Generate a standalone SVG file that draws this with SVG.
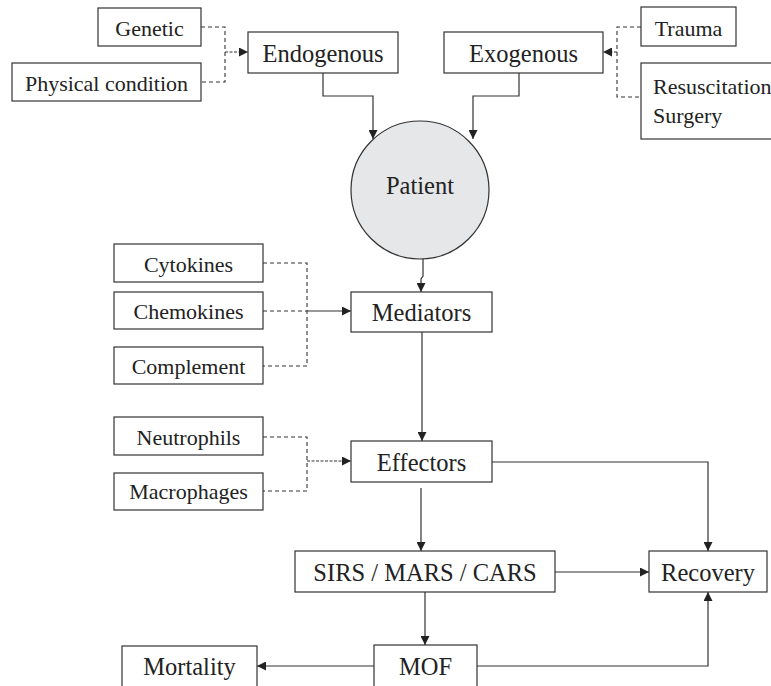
<svg xmlns="http://www.w3.org/2000/svg" width="771" height="686" viewBox="0 0 771 686">
<style>
  .box{fill:#fff;stroke:#333;stroke-width:1.2}
  .t{font-family:"Liberation Serif","Times New Roman",serif;fill:#222;text-anchor:middle}
  .big{font-size:24.5px}
  .sm{font-size:22px}
  .ln{fill:none;stroke:#333;stroke-width:1.2}
  .dash{fill:none;stroke:#333;stroke-width:1.1;stroke-dasharray:4,3}
  .dash2{fill:none;stroke:#333;stroke-width:1.1;stroke-dasharray:3,1.5}
</style>
<defs>
  <marker id="ah" viewBox="0 0 10 10" refX="10" refY="5" markerWidth="9" markerHeight="9" markerUnits="userSpaceOnUse" orient="auto">
    <path d="M0,0 L10,5 L0,10 z" fill="#222"/>
  </marker>
</defs>
<rect width="771" height="686" fill="#fff"/>

<g id="connectors">
  <!-- Endogenous inputs -->
  <path class="dash" d="M201,27 H225 V82 H201"/>
  <path class="dash2" d="M225,52 H248" marker-end="url(#ah)"/>
  <!-- Exogenous inputs -->
  <path class="dash" d="M641,27 H617 V97 H641"/>
  <path class="dash2" d="M617,52 H603" marker-end="url(#ah)"/>
  <!-- To patient -->
  <path class="ln" d="M323,73 V96 H373 V139" marker-end="url(#ah)"/>
  <path class="ln" d="M519,73 V96 H473 V139" marker-end="url(#ah)"/>
  <!-- Patient to Mediators -->
  <path class="ln" d="M423,259 V276 L421,279 V292" marker-end="url(#ah)"/>
  <!-- Mediator inputs -->
  <path class="dash" d="M263,263 H307 V366 H263"/>
  <path class="dash" d="M263,311 H307"/>
  <path class="ln" d="M307,311 H351" marker-end="url(#ah)"/>
  <!-- Mediators to Effectors -->
  <path class="ln" d="M422,332 V441" marker-end="url(#ah)"/>
  <!-- Effector inputs -->
  <path class="dash" d="M263,437 H307 V491 H263"/>
  <path class="dash2" d="M307,461 H351" marker-end="url(#ah)"/>
  <!-- Effectors to SIRS -->
  <path class="ln" d="M421,488 V551" marker-end="url(#ah)"/>
  <!-- Effectors to Recovery -->
  <path class="ln" d="M492,462 H708 V551" marker-end="url(#ah)"/>
  <!-- SIRS to Recovery -->
  <path class="ln" d="M555,572 H649" marker-end="url(#ah)"/>
  <!-- SIRS to MOF -->
  <path class="ln" d="M425,592 V645" marker-end="url(#ah)"/>
  <!-- MOF to Mortality -->
  <path class="ln" d="M374,666 H257" marker-end="url(#ah)"/>
  <!-- MOF to Recovery -->
  <path class="ln" d="M477,666 H708 V592" marker-end="url(#ah)"/>
</g>

<g id="genetic"><rect class="box" x="98" y="8" width="103" height="38"/><text class="t sm" x="149.5" y="36">Genetic</text></g>
<g id="physical"><rect class="box" x="12" y="63" width="189" height="38"/><text class="t sm" x="106.5" y="90.5">Physical condition</text></g>
<g id="endogenous"><rect class="box" x="248" y="32" width="150" height="41"/><text class="t big" x="323" y="62">Endogenous</text></g>
<g id="exogenous"><rect class="box" x="444" y="32" width="159" height="41"/><text class="t big" x="523.5" y="62">Exogenous</text></g>
<g id="trauma"><rect class="box" x="641" y="7" width="95" height="39"/><text class="t sm" x="688.5" y="36">Trauma</text></g>
<g id="resuscitation"><rect class="box" x="641" y="63" width="140" height="76"/>
  <text class="t sm" x="653" y="94" style="text-anchor:start">Resuscitation</text>
  <text class="t sm" x="653" y="122.5" style="text-anchor:start">Surgery</text></g>
<g id="patient"><circle cx="420" cy="190" r="69" fill="#e6e7e8" stroke="#333" stroke-width="1.2"/><text class="t big" x="420" y="194">Patient</text></g>
<g id="cytokines"><rect class="box" x="114" y="244" width="149" height="38"/><text class="t sm" x="188.5" y="272">Cytokines</text></g>
<g id="chemokines"><rect class="box" x="114" y="292" width="149" height="37"/><text class="t sm" x="188.5" y="319">Chemokines</text></g>
<g id="complement"><rect class="box" x="114" y="347" width="149" height="37"/><text class="t sm" x="188.5" y="373.5">Complement</text></g>
<g id="mediators"><rect class="box" x="351" y="292" width="141" height="40"/><text class="t big" x="421.5" y="321">Mediators</text></g>
<g id="neutrophils"><rect class="box" x="114" y="417" width="149" height="38"/><text class="t sm" x="188.5" y="444.5">Neutrophils</text></g>
<g id="macrophages"><rect class="box" x="114" y="473" width="149" height="37"/><text class="t sm" x="188.5" y="499">Macrophages</text></g>
<g id="effectors"><rect class="box" x="351" y="441" width="141" height="41"/><text class="t big" x="421.5" y="471">Effectors</text></g>
<g id="sirs"><rect class="box" x="295" y="551" width="260" height="41"/><text class="t big" x="425" y="581">SIRS / MARS / CARS</text></g>
<g id="recovery"><rect class="box" x="649" y="551" width="118" height="41"/><text class="t big" x="708" y="581">Recovery</text></g>
<g id="mof"><rect class="box" x="374" y="645" width="103" height="50"/><text class="t big" x="425.5" y="675">MOF</text></g>
<g id="mortality"><rect class="box" x="122" y="646" width="135" height="50"/><text class="t big" x="189.5" y="675">Mortality</text></g>
</svg>
